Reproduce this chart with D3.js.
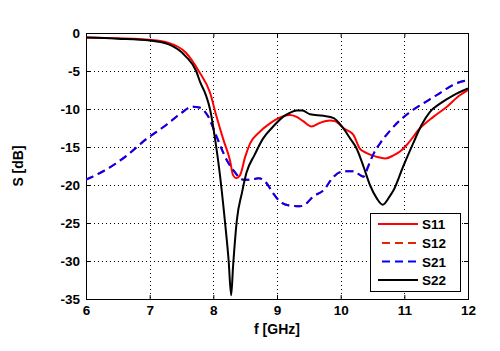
<!DOCTYPE html>
<html><head><meta charset="utf-8">
<script src="https://cdn.jsdelivr.net/npm/d3@7"></script>
<style>body{margin:0;background:#fff}svg{display:block}text{font-family:"Liberation Sans",Arial,sans-serif;font-weight:bold}</style>
</head><body>
<svg id="c" width="500" height="351"></svg>
<script>
const xTicks = [6,7,8,9,10,11,12];
const yTicks = [0,-5,-10,-15,-20,-25,-30,-35];
const s11 = [[6.0,-0.6],[6.5,-0.7],[7.0,-0.9],[7.3,-1.3],[7.57,-2.6],[7.77,-5.0],[7.95,-7.9],[8.05,-11.0],[8.16,-14.1],[8.26,-16.7],[8.31,-18.7],[8.36,-19.1],[8.42,-18.7],[8.5,-16.3],[8.58,-14.5],[8.73,-13.0],[8.89,-11.9],[9.05,-11.1],[9.2,-10.8],[9.3,-11.0],[9.41,-11.6],[9.54,-12.3],[9.68,-11.8],[9.83,-11.5],[9.91,-11.6],[10.04,-12.5],[10.2,-13.4],[10.3,-15.2],[10.41,-15.8],[10.57,-16.3],[10.7,-16.5],[10.83,-16.1],[10.93,-15.6],[11.04,-14.7],[11.25,-12.5],[11.46,-11.0],[11.67,-9.7],[11.87,-8.2],[12.0,-7.5]];
const s21 = [[6.0,-19.3],[6.31,-18.0],[6.63,-16.2],[6.94,-14.0],[7.26,-12.1],[7.47,-10.7],[7.68,-9.7],[7.78,-9.8],[7.92,-11.0],[8.05,-13.6],[8.21,-16.7],[8.31,-18.0],[8.47,-19.3],[8.58,-19.3],[8.71,-19.1],[8.84,-19.8],[8.94,-21.1],[9.05,-22.2],[9.2,-22.7],[9.36,-22.8],[9.45,-22.5],[9.57,-21.5],[9.73,-20.7],[9.89,-18.9],[10.04,-18.2],[10.2,-18.2],[10.36,-18.9],[10.43,-17.6],[10.51,-16.0],[10.62,-14.5],[10.77,-12.9],[10.93,-11.5],[11.14,-10.1],[11.35,-9.0],[11.56,-7.9],[11.77,-6.8],[12.0,-6.2]];
const s12 = s21.map(d => [d[0], d[1]]);
const s22 = [[6.0,-0.6],[6.5,-0.75],[7.0,-1.0],[7.3,-1.5],[7.57,-3.1],[7.73,-5.0],[7.79,-6.4],[7.88,-8.1],[7.95,-10.1],[8.03,-14.1],[8.1,-18.4],[8.18,-24.6],[8.24,-29.9],[8.28,-34.5],[8.31,-30.7],[8.37,-24.6],[8.45,-21.0],[8.52,-18.4],[8.65,-16.0],[8.78,-13.9],[8.94,-12.3],[9.1,-11.0],[9.2,-10.5],[9.31,-10.2],[9.4,-10.2],[9.52,-10.7],[9.73,-10.9],[9.89,-11.2],[10.02,-12.3],[10.15,-13.9],[10.25,-15.2],[10.36,-17.6],[10.46,-20.0],[10.57,-21.8],[10.66,-22.6],[10.77,-21.5],[10.83,-20.7],[10.98,-17.6],[11.14,-14.5],[11.27,-12.1],[11.4,-10.4],[11.56,-9.3],[11.77,-8.2],[12.0,-7.3]];
const seriesNames = ["S11","S12","S21","S22"];

const L=86,R=468,T=33,B=299;
const svg=d3.select("#c");
const x=d3.scaleLinear().domain([6,12]).range([L,R]);
const y=d3.scaleLinear().domain([-35,0]).range([B,T]);

// grid
const g=svg.append("g");
g.selectAll(".gx").data(xTicks.slice(1,-1)).enter().append("line")
 .attr("x1",d=>Math.round(x(d))+0.5).attr("x2",d=>Math.round(x(d))+0.5).attr("y1",T).attr("y2",B)
 .attr("stroke","#000").attr("stroke-width",1).attr("stroke-dasharray","1,3");
g.selectAll(".gy").data(yTicks.slice(1,-1)).enter().append("line")
 .attr("y1",d=>Math.round(y(d))+0.5).attr("y2",d=>Math.round(y(d))+0.5).attr("x1",L).attr("x2",R)
 .attr("stroke","#000").attr("stroke-width",1).attr("stroke-dasharray","1,3");

// axes
const ax=svg.append("g").attr("transform",`translate(0,${B})`).call(d3.axisBottom(x).tickValues(xTicks).tickSize(-4).tickPadding(6).tickFormat(d3.format("d")));
const ay=svg.append("g").attr("transform",`translate(${L},0)`).call(d3.axisLeft(y).tickValues(yTicks).tickSize(-4).tickPadding(6).tickFormat(d=>d3.format("d")(d).replace("−","-")));
const ax2=svg.append("g").attr("transform",`translate(0,${T})`).call(d3.axisTop(x).tickValues(xTicks).tickSize(-4).tickFormat(""));
const ay2=svg.append("g").attr("transform",`translate(${R},0)`).call(d3.axisRight(y).tickValues(yTicks).tickSize(-4).tickFormat(""));
[ax,ay,ax2,ay2].forEach(a=>{a.select(".domain").remove();a.selectAll("line").attr("stroke","#000");a.selectAll("text").attr("font-size",13.5).attr("fill","#000").style("font-family","Liberation Sans, Arial, sans-serif").style("font-weight","bold");});
svg.append("rect").attr("x",L+0.5).attr("y",T+0.5).attr("width",R-L).attr("height",B-T).attr("fill","none").attr("stroke","#000");

svg.append("defs").append("clipPath").attr("id","clip").append("rect").attr("x",L).attr("y",T).attr("width",R-L).attr("height",B-T);
const line=d3.line().x(d=>x(d[0])).y(d=>y(d[1])).curve(d3.curveMonotoneX);
const styles=[{d:s11,c:"#ff0000",dash:null},{d:s12,c:"#e02800",dash:"8,5"},{d:s21,c:"#0000ff",dash:"8,5"},{d:s22,c:"#000000",dash:null}];
const pl=svg.append("g").attr("clip-path","url(#clip)");
styles.forEach(s=>{pl.append("path").datum(s.d).attr("d",line).attr("fill","none").attr("stroke",s.c).attr("stroke-width",2).attr("stroke-dasharray",s.dash).attr("stroke-linejoin","round");});

// legend
const lg=svg.append("g");
lg.append("rect").attr("x",370.5).attr("y",213.5).attr("width",90).attr("height",78).attr("fill","#fff").attr("stroke","#000");
const ly=[224,243,261.5,280];
styles.forEach((s,i)=>{
  lg.append("line").attr("x1",378).attr("x2",418).attr("y1",ly[i]).attr("y2",ly[i]).attr("stroke",s.c).attr("stroke-width",2).attr("stroke-dasharray",s.dash?"8,5":null).attr("stroke-dashoffset",s.dash?-4:0);
  lg.append("text").attr("x",422).attr("y",ly[i]+5).attr("font-size",13.5).text(seriesNames[i]);
});

svg.append("text").attr("x",277).attr("y",334).attr("text-anchor","middle").attr("font-size",14).text("f [GHz]");
svg.append("text").attr("transform","translate(23,166) rotate(-90)").attr("text-anchor","middle").attr("font-size",14).text("S [dB]");
</script>
</body></html>
